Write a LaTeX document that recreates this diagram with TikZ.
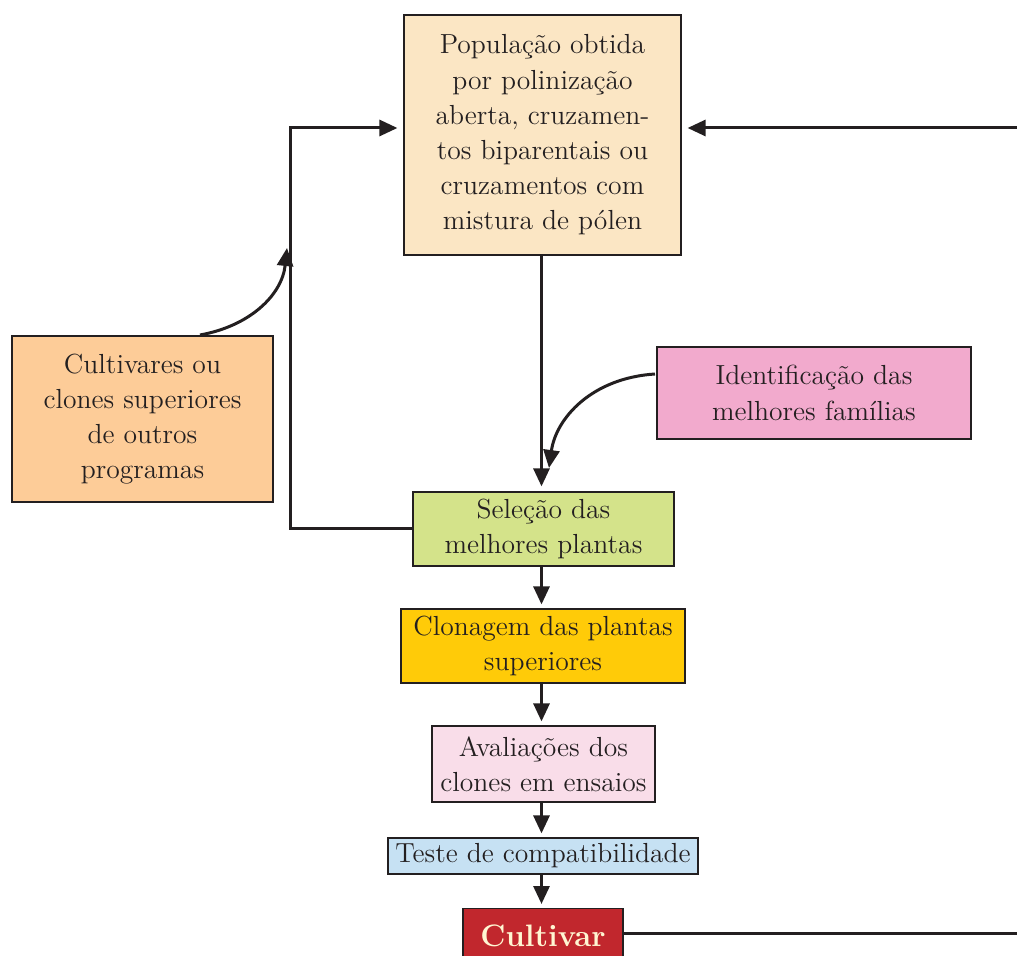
\documentclass[tikz,border=0pt]{standalone}
\usetikzlibrary{arrows.meta}
\definecolor{popfill}{HTML}{FBE6C4}
\definecolor{cultfill}{HTML}{FDCC98}
\definecolor{identfill}{HTML}{F2AACD}
\definecolor{selfill}{HTML}{D4E38A}
\definecolor{clonfill}{HTML}{FFCB08}
\definecolor{avalfill}{HTML}{F9DDE9}
\definecolor{testfill}{HTML}{C6E1F3}
\definecolor{cvfill}{HTML}{C1272D}
\definecolor{cvtext}{HTML}{FFF6D2}
\definecolor{ink}{HTML}{231F20}
\begin{document}
\begin{tikzpicture}[x=0.5pt,y=-0.5pt,
  box/.style={draw=ink,line width=0.6pt,align=center,inner sep=0pt,
    font=\fontsize{13.8}{17.6}\selectfont,text=ink},
  link/.style={draw=ink,line width=1.5pt},
  arr/.style={link,-{Triangle[length=9pt,width=8pt]}}]
\clip (0,0) rectangle (1017,956);
\fill[white] (0,0) rectangle (1017,956);

% boxes
\node[box,fill=popfill,minimum width=138.5pt,minimum height=120pt] (pop) at (542.5,135)
  {População obtida\\por polinização\\aberta, cruzamen-\\tos biparentais ou\\cruzamentos com\\mistura de pólen};
\node[box,fill=cultfill,minimum width=130.5pt,minimum height=83pt] (outros) at (142.5,419)
  {Cultivares ou\\clones superiores\\de outros\\programas};
\node[box,fill=identfill,minimum width=157pt,minimum height=46pt] (ident) at (814,393)
  {Identificação das\\melhores famílias};
\node[box,fill=selfill,minimum width=130.5pt,minimum height=37pt] (sel) at (543.5,529)
  {Seleção das\\melhores plantas};
\node[box,fill=clonfill,minimum width=142pt,minimum height=37pt] (clon) at (543,646)
  {Clonagem das plantas\\superiores};
\node[box,fill=avalfill,minimum width=111.5pt,minimum height=38pt] (aval) at (543.5,764)
  {Avaliações dos\\clones em ensaios};
\node[box,fill=testfill,minimum width=155pt,minimum height=18pt] (teste) at (543,856)
  {Teste de compatibilidade};
\node[box,fill=cvfill,anchor=north,minimum width=80pt,inner ysep=9.5pt,
  text height=9.5pt,text depth=20pt,text=cvtext,font=\fontsize{15.5}{18}\selectfont\bfseries]
  (cv) at (543,908) {Cultivar};

% free ends at the right margin and helper points
\coordinate (spine) at (541.5,0);
\coordinate (rin) at (1017,128);
\coordinate (rout) at (1017,933);
\coordinate (loopy) at (290,128);
\coordinate (ident0) at (655,374);
\coordinate (identend) at (549,468);
\coordinate (outros0) at (200,335);
\coordinate (outrosend) at (287,248);

% main chain along one vertical spine
\draw[arr,shorten >=2.5pt] (spine |- pop.south) -- (spine |- sel.north);
\draw[arr,shorten >=2pt] (spine |- sel.south) -- (spine |- clon.north);
\draw[arr,shorten >=2pt] (spine |- clon.south) -- (spine |- aval.north);
\draw[arr,shorten >=2pt] (spine |- aval.south) -- (spine |- teste.north);
\draw[arr,shorten >=2pt] (spine |- teste.south) -- (spine |- cv.north);

% feedback from selection back to the population
\draw[arr,shorten >=3pt] (sel.west) -| (loopy) -- (pop.west |- loopy);
% returning cultivar
\draw[arr,shorten >=3pt] (rin) -- (pop.east |- rin);
\draw[link] (cv.east |- rout) -- (rout);

% curved inputs
\draw[arr] (ident0) .. controls (592,378) and (556,418) .. (identend);
\draw[arr] (outros0) .. controls (250,326) and (282,295) .. (outrosend);
\end{tikzpicture}
\end{document}
